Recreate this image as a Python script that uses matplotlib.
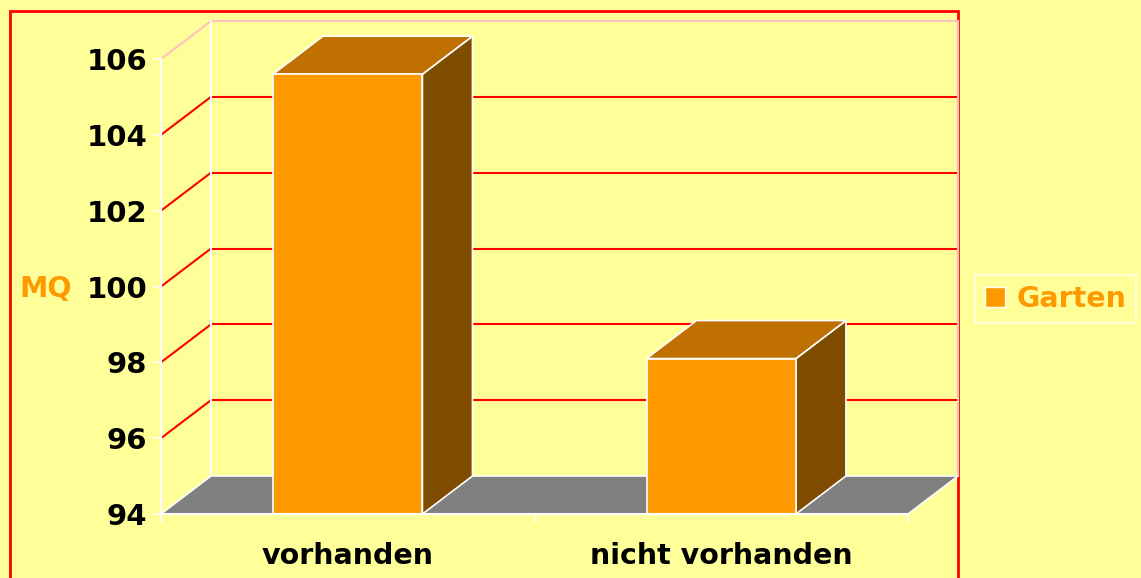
import numpy as np
import matplotlib
matplotlib.use("Agg")
import matplotlib.pyplot as plt
from matplotlib.patches import Polygon, Rectangle, Patch
from matplotlib.transforms import Affine2D, IdentityTransform

categories = ["vorhanden", "nicht vorhanden"]
values = [105.6, 98.1]
series_name = "Garten"
y_min, y_max = 94, 106
y_ticks = [94, 96, 98, 100, 102, 104, 106]
y_label = "MQ"

bg = "#FFFF99"
orange = "#FF9900"
top_col = "#C07000"
side_col = "#804C00"
floor_col = "#808080"
pink = "#FFC0C0"
depth = (50, 38)  # pixel offset of the back plane
bar_w = 0.4

W, H = 1141, 578
fig = plt.figure(figsize=(W / 100, H / 100), dpi=100, facecolor=bg)
ax = fig.add_axes([161 / W, 64 / H, 747 / W, 455 / H])
ax.set_facecolor("none")
ax.set_xlim(0, len(categories))
ax.set_ylim(y_min, y_max)
for s in ax.spines.values():
    s.set_visible(False)

back = ax.transData + Affine2D().translate(*depth)


def pt3(x, y, d):
    p = ax.transData.transform((x, y))
    return (p[0] + d * depth[0], p[1] + d * depth[1])


def poly(pts, **kw):
    p = Polygon(pts, closed=True, transform=IdentityTransform(), clip_on=False, **kw)
    ax.add_patch(p)


# chart area border
fig.add_artist(Rectangle((10 / W, -0.1), 948 / W, 1.1 - 11 / H, transform=fig.transFigure,
                         facecolor="none", edgecolor="#FF0000", lw=2, zorder=-1))

# walls and gridlines
nx = len(categories)
for v in y_ticks[1:]:
    c = pink if v == y_max else "#FF0000"
    ax.plot([0, nx], [v, v], color=c, lw=1.5, transform=back, clip_on=False, zorder=1)
    a, b = pt3(0, v, 0), pt3(0, v, 1)
    ax.plot([a[0], b[0]], [a[1], b[1]], color=c, lw=1.5, transform=IdentityTransform(),
            clip_on=False, zorder=1)
ax.plot([nx, nx], [y_min, y_max], color=pink, lw=1.5, transform=back, clip_on=False, zorder=1)
ax.plot([0, 0], [y_min, y_max], color="white", lw=1.5, transform=back, clip_on=False, zorder=1)
ax.plot([0, 0], [y_min, y_max], color="white", lw=1.5, clip_on=False, zorder=5)

# floor
poly([pt3(0, y_min, 0), pt3(nx, y_min, 0), pt3(nx, y_min, 1), pt3(0, y_min, 1)],
     facecolor=floor_col, edgecolor="white", lw=1.2, zorder=2)
ax.plot([0, nx], [y_min, y_min], color="white", lw=1.5, clip_on=False, zorder=5)

# bars
for i, v in enumerate(values):
    x0, x1 = i + 0.5 - bar_w / 2, i + 0.5 + bar_w / 2
    poly([pt3(x1, y_min, 0), pt3(x1, v, 0), pt3(x1, v, 1), pt3(x1, y_min, 1)],
         facecolor=side_col, edgecolor="white", lw=1.2, zorder=3)
    poly([pt3(x0, v, 0), pt3(x1, v, 0), pt3(x1, v, 1), pt3(x0, v, 1)],
         facecolor=top_col, edgecolor="white", lw=1.2, zorder=3)
    ax.add_patch(Rectangle((x0, y_min), bar_w, v - y_min, facecolor=orange,
                           edgecolor="white", lw=1.2, zorder=4, clip_on=False))

# axes ticks and labels
ax.set_yticks(y_ticks)
ax.set_yticklabels([str(t) for t in y_ticks], fontsize=21, fontweight="bold",
                   family="DejaVu Sans")
ax.tick_params(axis="y", colors="white", labelcolor="black", length=6, width=1.2, pad=4)
ax.set_xticks([i + 0.5 for i in range(nx)])
ax.set_xticklabels(categories, fontsize=20.5, fontweight="bold", family="DejaVu Sans")
ax.tick_params(axis="x", length=0, pad=20, labelcolor="black")
ax.set_xticks(range(nx + 1), minor=True)
ax.tick_params(axis="x", which="minor", colors="white", length=6, width=1.2)

fig.text(46 / W, 1 - 289 / H, y_label, color=orange, fontsize=20.5, fontweight="bold",
         ha="center", va="center", family="DejaVu Sans")

leg = fig.legend(handles=[Patch(facecolor=orange, edgecolor="white")], labels=[series_name],
                 loc="center left", bbox_to_anchor=(975 / W, 1 - 299 / H),
                 fancybox=False, frameon=True, borderpad=0.35, handlelength=0.7,
                 handleheight=0.7, handletextpad=0.4, borderaxespad=0,
                 prop={"size": 20.5, "weight": "bold", "family": "DejaVu Sans"})
leg.get_frame().set_facecolor(bg)
leg.get_frame().set_edgecolor("white")
leg.get_frame().set_linewidth(1.2)
for t in leg.get_texts():
    t.set_color(orange)

fig.savefig("out.png", dpi=100, facecolor=bg)
